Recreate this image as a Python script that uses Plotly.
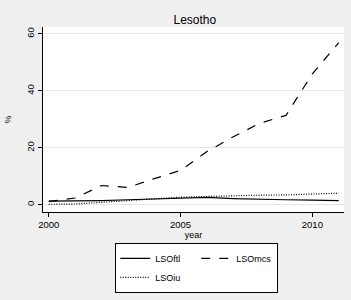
import plotly.graph_objects as go

years = list(range(2000, 2012))
lso_ftl = [1.3, 1.3, 1.5, 1.8, 2.1, 2.5, 2.6, 2.2, 1.9, 1.8, 1.7, 1.5]
lso_mcs = [1.2, 2.4, 6.8, 6.1, 9.2, 12.1, 18.7, 23.9, 28.6, 31.4, 46.0, 56.9]
lso_iu = [0.2, 0.3, 0.9, 1.4, 2.1, 2.7, 3.0, 3.2, 3.4, 3.5, 3.7, 4.1]
x_ticks = [2000, 2005, 2010]
y_ticks = [0, 20, 40, 60]

FONT = "Liberation Sans, Arial, sans-serif"

fig = go.Figure()
fig.add_trace(go.Scatter(x=years, y=lso_ftl, mode="lines", name="LSOftl", legendgroup="a",
                         line=dict(color="black", width=1.2, dash="solid")))
fig.add_trace(go.Scatter(x=years, y=lso_mcs, mode="lines", name="LSOmcs", legendgroup="b",
                         line=dict(color="black", width=1.2, dash="dash")))
fig.add_trace(go.Scatter(x=years, y=lso_iu, mode="lines", name="LSOiu", legendgroup="a",
                         line=dict(color="black", width=1.2, dash="1px,1.5px")))

fig.update_layout(
    width=351, height=300,
    margin=dict(l=40, r=7, t=27, b=87),
    paper_bgcolor="#efefef",
    plot_bgcolor="white",
    font=dict(family=FONT, size=9, color="black"),
    title=dict(text="Lesotho", x=0.555, xanchor="center", y=0.935, yanchor="middle",
               font=dict(family=FONT, size=12, color="black")),
    xaxis=dict(range=[1999.78, 2011.2], tickvals=x_ticks, ticks="outside", ticklen=4,
               tickcolor="black", showline=True, linecolor="black", linewidth=1,
               showgrid=False, zeroline=False,
               title=dict(text="year", font=dict(size=9), standoff=1),
               tickfont=dict(size=9.5)),
    yaxis=dict(range=[-2.5, 62.4], tickvals=y_ticks, ticks="outside", ticklen=4,
               tickcolor="black", showline=True, linecolor="black", linewidth=1,
               showgrid=True, gridcolor="#e6e6e6", gridwidth=1, zeroline=False,
               tickangle=-90,
               title=dict(text="%", font=dict(size=9), standoff=12),
               tickfont=dict(size=9.5)),
    legend=dict(orientation="h", x=0.24, xanchor="left", y=-0.167, yanchor="top",
                bgcolor="white", bordercolor="black", borderwidth=1,
                entrywidth=36, font=dict(size=9), tracegroupgap=0,
                traceorder="grouped"),
    showlegend=True,
)

fig.write_html("out.html", config={"displayModeBar": False},
               post_script="document.body.style.margin='0';")
